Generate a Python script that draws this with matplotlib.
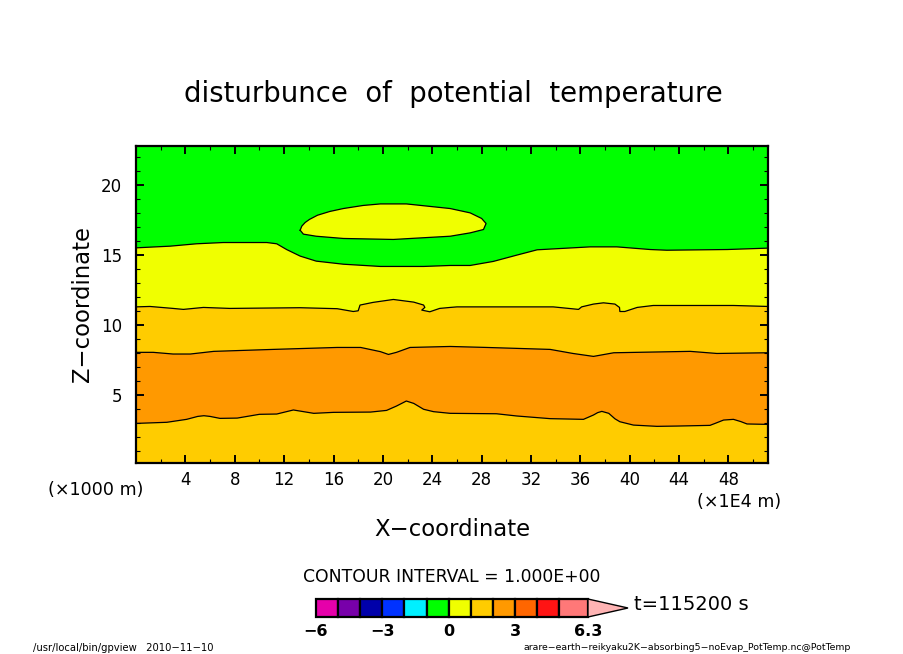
import numpy as np
import matplotlib
matplotlib.use("Agg")
import matplotlib.pyplot as plt

W, H = 904, 654

plt.rcParams['font.family'] = 'DejaVu Sans'

XLIM = (0.0, 51.2)
ZLIM = (0.14, 22.8)

# contour lines (x in 1E4 m, z in 1000 m)
x_lev3 = [0, 2.5, 4.1, 5.0, 5.5, 6.0, 6.8, 8.2, 10, 11.4, 12.75, 14.4, 16, 19, 20.3, 21.1, 21.9, 22.5, 23.3, 24.1,
          25.45, 29.2, 30.85, 33.55, 36.25, 37.06, 37.4, 37.74, 38.3, 38.8, 39.2, 40.3, 42.2, 43.8, 46.5, 47.0, 47.6, 48.4, 49.0, 49.5, 51.2]
z_lev3 = [2.97, 3.05, 3.26, 3.47, 3.52, 3.47, 3.33, 3.35, 3.62, 3.64, 3.93, 3.69, 3.76, 3.78, 3.9, 4.21, 4.57, 4.4, 3.98, 3.81,
          3.69, 3.66, 3.5, 3.31, 3.26, 3.57, 3.74, 3.83, 3.69, 3.3, 3.09, 2.85, 2.76, 2.78, 2.83, 3.0, 3.21, 3.26, 3.1, 2.93, 2.9]

x_lev2 = [0, 1.4, 3.0, 4.4, 6.3, 11.1, 16.3, 18.2, 19.8, 20.45, 21.1, 22.2, 25.45,
          28.4, 33.55, 35.4, 37.06, 38.7, 44.9, 47.06, 51.2]
z_lev2 = [8.05, 8.05, 7.93, 7.93, 8.12, 8.26, 8.4, 8.4, 8.1, 7.9, 8.05, 8.4, 8.47,
          8.4, 8.26, 7.97, 7.76, 8.02, 8.12, 7.97, 8.02]

x_lev1 = [0, 1.13, 3.0, 3.84, 5.46, 7.6, 13.3, 16.3, 17.6, 18.0, 18.15, 19.2, 20.85, 22.5, 23.3, 23.4, 23.15, 23.8, 24.6,
          25.45, 26, 33.8, 35.85, 36.1, 37.06, 37.87, 38.8, 39.17, 39.2, 39.6, 40.6, 41.9, 48.4, 51.2]
z_lev1 = [11.3, 11.33, 11.19, 11.12, 11.26, 11.19, 11.24, 11.17, 10.97, 11.02, 11.43, 11.62, 11.83, 11.64, 11.43, 11.26, 11.07, 10.95, 11.19,
          11.26, 11.3, 11.3, 11.12, 11.3, 11.5, 11.59, 11.5, 11.26, 10.97, 10.97, 11.26, 11.4, 11.4, 11.33]

x_lev0 = [0, 2.76, 4.9, 7.07, 10.6, 11.4, 12.2, 13.3, 14.6, 16.8, 19.8, 23.3, 25.45,
          27.07, 28.95, 30.85, 32.5, 36.8, 38.95, 41.65, 43, 47.9, 51.2]
z_lev0 = [15.52, 15.64, 15.81, 15.9, 15.9, 15.81, 15.4, 14.93, 14.57, 14.35, 14.19, 14.19, 14.26,
          14.26, 14.55, 15.0, 15.38, 15.59, 15.59, 15.4, 15.35, 15.4, 15.5]

x_blob = [13.3, 13.43, 13.7, 14.05, 14.7, 15.7, 16.8, 18.4, 19.8, 21.9, 25.45, 27.07, 28.0, 28.36,
          28.15, 27.07, 25.45, 20.85, 16.8, 14.6, 13.56, 13.3]
z_blob = [16.78, 17.07, 17.33, 17.55, 17.85, 18.12, 18.33, 18.55, 18.66, 18.66, 18.33, 18.02, 17.62, 17.26,
          16.83, 16.59, 16.35, 16.12, 16.19, 16.35, 16.5, 16.78]

xticks_major = [4, 8, 12, 16, 20, 24, 28, 32, 36, 40, 44, 48]
xticks_minor = [2, 6, 10, 14, 18, 22, 26, 30, 34, 38, 42, 46, 50]
zticks_major = [5, 10, 15, 20]
zticks_minor = [1, 2, 3, 4, 6, 7, 8, 9, 11, 12, 13, 14, 16, 17, 18, 19, 21, 22]

cbar_levels = [-6, -5, -4, -3, -2, -1, 0, 1, 2, 3, 4, 5, 6.3]
cbar_colors = ['#e600aa', '#7800aa', '#0000aa', '#0032ff', '#00f0ff', '#00ff00',
               '#f0ff00', '#ffcc00', '#ff9900', '#ff6600', '#ff1414', '#ff7878']
cbar_over = '#ffb4b4'
cbar_ticks = [-6, -3, 0, 3, 6.3]
cbar_ticklabels = ['\u22126', '\u22123', '0', '3', '6.3']


def ftext(px, py, s, **kw):
    # text placed in pixel coordinates of the original image
    return fig.text(px / W, 1 - py / H, s, **kw)


def under(ax, x, z, color):
    # fill below a contour line, lines can fold back so no fill_between
    ax.fill(np.r_[x, XLIM[1], XLIM[0]], np.r_[z, ZLIM[0], ZLIM[0]], color=color, lw=0)


fig = plt.figure(figsize=(W / 100, H / 100), dpi=100)
ax = fig.add_axes([136 / W, 1 - 463 / H, 632 / W, 317 / H])
ax.set_facecolor('#00ff00')

under(ax, x_lev0, z_lev0, '#f0ff00')
under(ax, x_lev1, z_lev1, '#ffcc00')
under(ax, x_lev2, z_lev2, '#ff9900')
under(ax, x_lev3, z_lev3, '#ffcc00')
ax.fill(x_blob, z_blob, color='#f0ff00', lw=0)

for x, z in [(x_lev0, z_lev0), (x_lev1, z_lev1), (x_lev2, z_lev2), (x_lev3, z_lev3), (x_blob, z_blob)]:
    ax.plot(x, z, color='k', lw=0.9)

ax.set_xlim(*XLIM)
ax.set_ylim(*ZLIM)
ax.set_xticks(xticks_major)
ax.set_xticks(xticks_minor, minor=True)
ax.set_yticks(zticks_major)
ax.set_yticks(zticks_minor, minor=True)
ax.tick_params(which='major', direction='in', length=6, width=1.4, top=True, right=True, labelsize=12)
ax.tick_params(axis='x', which='major', pad=6)
ax.tick_params(axis='y', which='major', pad=10)
ax.tick_params(which='minor', direction='in', length=3, width=0.8, top=True, right=True)
for s in ax.spines.values():
    s.set_linewidth(1.6)

ftext(453, 94, 'disturbunce  of  potential  temperature', fontsize=19.8, ha='center', va='center')
ftext(452, 529, 'X\u2212coordinate', fontsize=16.4, ha='center', va='center')
ftext(83, 304, 'Z\u2212coordinate', fontsize=16.4, ha='center', va='center', rotation=90)
ftext(96, 490, '(\u00d71000 m)', fontsize=12.6, ha='center', va='center')
ftext(739, 502, '(\u00d71E4 m)', fontsize=12.6, ha='center', va='center')
ftext(452, 577, 'CONTOUR INTERVAL = 1.000E+00', fontsize=12.4, ha='center', va='center')
ftext(634, 604, 't=115200 s', fontsize=14, ha='left', va='center')
ftext(33, 648, '/usr/local/bin/gpview   2010\u221211\u221210', fontsize=7.2, ha='left', va='center')
ftext(851, 648, 'arare\u2212earth\u2212reikyaku2K\u2212absorbing5\u2212noEvap_PotTemp.nc@PotTemp',
      fontsize=6.75, ha='right', va='center')

# colour bar with the triangle for values above the last level
tip = 6.3 + 40 / 22.1
cax = fig.add_axes([316 / W, 1 - 617 / H, 312 / W, 18 / H])
for lo, hi, c in zip(cbar_levels[:-1], cbar_levels[1:], cbar_colors):
    cax.fill([lo, hi, hi, lo], [0, 0, 1, 1], facecolor=c, edgecolor='k', lw=1.6, clip_on=False)
cax.fill([6.3, tip, 6.3], [0, 0.5, 1], facecolor=cbar_over, edgecolor='k', lw=1.0, clip_on=False)
cax.set_xlim(-6, tip)
cax.set_ylim(0, 1)
cax.set_yticks([])
cax.set_xticks(cbar_ticks)
cax.set_xticklabels(cbar_ticklabels, fontweight='bold')
cax.tick_params(axis='x', length=0, labelsize=11.5, pad=5)
cax.patch.set_visible(False)
for s in cax.spines.values():
    s.set_visible(False)

fig.savefig('out.png', dpi=100)
